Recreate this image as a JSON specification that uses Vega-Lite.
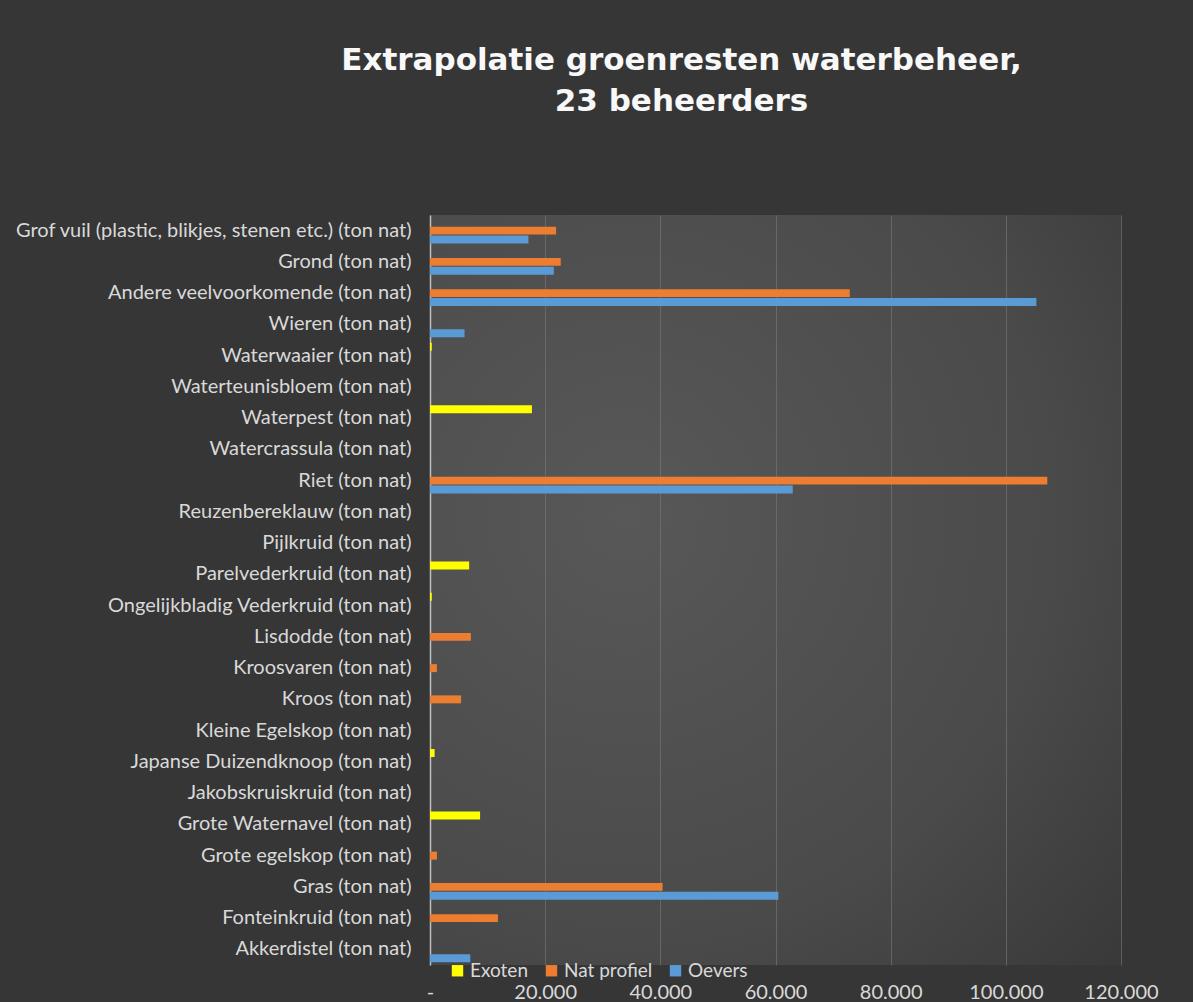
{
  "$schema": "https://vega.github.io/schema/vega-lite/v6.json",
  "width": 691,
  "height": 750,
  "autosize": {"type": "none"},
  "padding": {"left": 430, "top": 215, "right": 72, "bottom": 37},
  "background": "#363636",
  "title": {
    "text": ["Extrapolatie  groenresten waterbeheer,", "23 beheerders"],
    "font": "DejaVu Sans",
    "fontSize": 31,
    "fontWeight": "bold",
    "color": "#f8f8f8",
    "anchor": "middle",
    "frame": "group",
    "dx": -94,
    "offset": 97,
    "lineHeight": 41
  },
  "config": {
    "view": {
      "stroke": null,
      "fill": {
        "gradient": "radial",
        "x1": 0.3, "y1": 0.4, "r1": 0,
        "x2": 0.3, "y2": 0.4, "r2": 0.95,
        "stops": [
          {"offset": 0, "color": "#585858"},
          {"offset": 0.6, "color": "#4a4a4a"},
          {"offset": 1, "color": "#363636"}
        ]
      }
    }
  },
  "data": {
    "values": [
      {"cat": "Grof vuil (plastic, blikjes, stenen etc.) (ton nat)", "serie": "Nat profiel", "ton": 21900},
      {"cat": "Grof vuil (plastic, blikjes, stenen etc.) (ton nat)", "serie": "Oevers", "ton": 17100},
      {"cat": "Grond (ton nat)", "serie": "Nat profiel", "ton": 22700},
      {"cat": "Grond (ton nat)", "serie": "Oevers", "ton": 21500},
      {"cat": "Andere veelvoorkomende (ton nat)", "serie": "Nat profiel", "ton": 72900},
      {"cat": "Andere veelvoorkomende (ton nat)", "serie": "Oevers", "ton": 105300},
      {"cat": "Wieren (ton nat)", "serie": "Oevers", "ton": 6000},
      {"cat": "Waterwaaier (ton nat)", "serie": "Exoten", "ton": 300},
      {"cat": "Waterpest (ton nat)", "serie": "Exoten", "ton": 17700},
      {"cat": "Riet (ton nat)", "serie": "Nat profiel", "ton": 107200},
      {"cat": "Riet (ton nat)", "serie": "Oevers", "ton": 63000},
      {"cat": "Parelvederkruid (ton nat)", "serie": "Exoten", "ton": 6800},
      {"cat": "Ongelijkbladig Vederkruid (ton nat)", "serie": "Exoten", "ton": 300},
      {"cat": "Lisdodde (ton nat)", "serie": "Nat profiel", "ton": 7100},
      {"cat": "Kroosvaren (ton nat)", "serie": "Nat profiel", "ton": 1200},
      {"cat": "Kroos (ton nat)", "serie": "Nat profiel", "ton": 5400},
      {"cat": "Japanse Duizendknoop (ton nat)", "serie": "Exoten", "ton": 800},
      {"cat": "Grote Waternavel (ton nat)", "serie": "Exoten", "ton": 8700},
      {"cat": "Grote egelskop (ton nat)", "serie": "Nat profiel", "ton": 1200},
      {"cat": "Gras (ton nat)", "serie": "Nat profiel", "ton": 40400},
      {"cat": "Gras (ton nat)", "serie": "Oevers", "ton": 60500},
      {"cat": "Fonteinkruid (ton nat)", "serie": "Nat profiel", "ton": 11800},
      {"cat": "Akkerdistel (ton nat)", "serie": "Oevers", "ton": 7000}
    ]
  },
  "mark": {"type": "bar"},
  "encoding": {
    "y": {
      "field": "cat",
      "type": "nominal",
      "sort": null,
      "scale": {
        "domain": [
          "Grof vuil (plastic, blikjes, stenen etc.) (ton nat)",
          "Grond (ton nat)",
          "Andere veelvoorkomende (ton nat)",
          "Wieren (ton nat)",
          "Waterwaaier (ton nat)",
          "Waterteunisbloem (ton nat)",
          "Waterpest (ton nat)",
          "Watercrassula (ton nat)",
          "Riet (ton nat)",
          "Reuzenbereklauw (ton nat)",
          "Pijlkruid (ton nat)",
          "Parelvederkruid (ton nat)",
          "Ongelijkbladig Vederkruid (ton nat)",
          "Lisdodde (ton nat)",
          "Kroosvaren (ton nat)",
          "Kroos (ton nat)",
          "Kleine Egelskop (ton nat)",
          "Japanse Duizendknoop (ton nat)",
          "Jakobskruiskruid (ton nat)",
          "Grote Waternavel (ton nat)",
          "Grote egelskop (ton nat)",
          "Gras (ton nat)",
          "Fonteinkruid (ton nat)",
          "Akkerdistel (ton nat)"
        ],
        "paddingInner": 0.18,
        "paddingOuter": 0.09
      },
      "axis": {
        "title": null,
        "domain": true,
        "domainColor": "#bfbfbf",
        "domainWidth": 1.5,
        "ticks": false,
        "grid": false,
        "labelPadding": 19,
        "labelFont": "Lato",
        "labelFontSize": 20,
        "labelColor": "#d9d9d9",
        "labelLimit": 600
      }
    },
    "yOffset": {
      "field": "serie",
      "type": "nominal",
      "scale": {"domain": ["Exoten", "Nat profiel", "Oevers"], "paddingInner": 0.1}
    },
    "x": {
      "field": "ton",
      "type": "quantitative",
      "scale": {"domain": [0, 120000], "nice": false},
      "axis": {
        "title": null,
        "values": [0, 20000, 40000, 60000, 80000, 100000, 120000],
        "labelExpr": "datum.value === 0 ? '-' : replace(format(datum.value, ','), ',', '.')",
        "labelFlush": false,
        "labelOverlap": false,
        "domain": false,
        "ticks": false,
        "grid": true,
        "gridColor": "#7a7a7a",
        "gridOpacity": 0.6,
        "labelPadding": 17,
        "labelFont": "Lato",
        "labelFontSize": 20,
        "labelColor": "#d9d9d9"
      }
    },
    "color": {
      "field": "serie",
      "type": "nominal",
      "scale": {
        "domain": ["Exoten", "Nat profiel", "Oevers"],
        "range": ["#FFFF00", "#ED7D31", "#5B9BD5"]
      },
      "legend": {
        "title": null,
        "orient": "none",
        "legendX": 18,
        "legendY": 746,
        "direction": "horizontal",
        "symbolType": "square",
        "symbolSize": 130,
        "symbolStrokeWidth": 0,
        "symbolOpacity": 1,
        "labelFont": "Lato",
        "labelFontSize": 19,
        "labelColor": "#d9d9d9",
        "columnPadding": 13,
        "labelOffset": 3
      }
    }
  }
}
